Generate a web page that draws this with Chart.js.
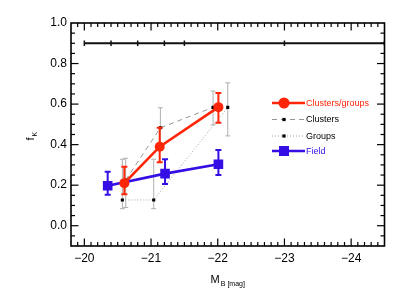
<!DOCTYPE html>
<html>
<head>
<meta charset="utf-8">
<script src="https://cdn.jsdelivr.net/npm/chart.js@4.4.1/dist/chart.umd.min.js"></script>
<style>
  html, body { margin: 0; padding: 0; background: #fff; }
  #wrap { width: 407px; height: 291px; }
</style>
</head>
<body>
<div id="wrap"><canvas id="chart"></canvas></div>
<script>
// tick values
const xTickVals = [-20, -21, -22, -23, -24];
const yTickVals = [0, 0.2, 0.4, 0.6, 0.8, 1.0];

// black reference line with bin markers
const refX = [-20, -20.4, -20.8, -21.2, -21.5, -23, -24.5];
const refY = [0.9, 0.9, 0.9, 0.9, 0.9, 0.9, 0.9];

// Clusters/groups (red)
const cgX = [-20.6, -21.13, -22.01];
const cgY = [0.21, 0.39, 0.585];
const cgLo = [0.155, 0.313, 0.508];
const cgHi = [0.291, 0.483, 0.655];

// Clusters (dashed)
const clX = [-20.62, -21.14, -21.93];
const clY = [0.225, 0.483, 0.584];
const clLo = [0.09, 0.38, 0.497];
const clHi = [0.333, 0.582, 0.664];

// Groups (dotted)
const grX = [-20.57, -21.04, -22.15];
const grY = [0.127, 0.127, 0.584];
const grLo = [0.084, 0.084, 0.443];
const grHi = [0.328, 0.328, 0.705];

// Field (blue)
const fdX = [-20.35, -21.21, -22.01];
const fdY = [0.197, 0.257, 0.303];
const fdLo = [0.153, 0.206, 0.25];
const fdHi = [0.266, 0.328, 0.373];

const RED = 'rgb(255,38,8)';
const BLUE = 'rgb(52,14,228)';
const FONT = '"Liberation Sans", Arial, sans-serif';

const pts = (xs, ys) => xs.map((x, i) => ({ x: x, y: ys[i] }));

const errorBars = {
  id: 'errorBars',
  beforeDatasetDraw(chart, args) {
    const ds = chart.data.datasets[args.index];
    if (!ds.errLo) return;
    const ctx = chart.ctx;
    const xs = chart.scales.x, ys = chart.scales.y;
    ctx.save();
    ctx.strokeStyle = ds.errColor;
    ctx.lineWidth = ds.errWidth;
    ds.data.forEach((p, i) => {
      const px = xs.getPixelForValue(p.x);
      const y1 = ys.getPixelForValue(ds.errLo[i]);
      const y2 = ys.getPixelForValue(ds.errHi[i]);
      const c = ds.errCap;
      ctx.beginPath();
      ctx.moveTo(px, y1); ctx.lineTo(px, y2);
      ctx.moveTo(px - c, y1); ctx.lineTo(px + c, y1);
      ctx.moveTo(px - c, y2); ctx.lineTo(px + c, y2);
      ctx.stroke();
    });
    ctx.restore();
  }
};

const frame = {
  id: 'frame',
  afterDraw(chart) {
    const ctx = chart.ctx;
    const a = chart.chartArea;
    const xs = chart.scales.x, ys = chart.scales.y;
    ctx.save();
    ctx.setLineDash([]);
    ctx.strokeStyle = '#000';
    ctx.lineWidth = 1.6;
    ctx.strokeRect(a.left, a.top, a.right - a.left, a.bottom - a.top);

    // inward ticks: x major every 1, minor every 0.1; y major every 0.2, minor every 0.05
    const tickSegs = [];
    for (let k = 198; k <= 245; k++) {
      const px = xs.getPixelForValue(-k / 10);
      if (px < a.left + 1 || px > a.right - 1) continue;
      const len = (k % 10 === 0) ? 7.5 : 4;
      tickSegs.push([px, a.bottom, px, a.bottom - len]);
      tickSegs.push([px, a.top, px, a.top + len]);
    }
    for (let k = -2; k <= 20; k++) {
      const py = ys.getPixelForValue(k * 0.05);
      if (py < a.top + 1 || py > a.bottom - 1) continue;
      const len = (k % 4 === 0) ? 7.5 : 4;
      tickSegs.push([a.left, py, a.left + len, py]);
      tickSegs.push([a.right, py, a.right - len, py]);
    }
    ctx.lineWidth = 1.2;
    tickSegs.forEach(s => {
      ctx.beginPath();
      ctx.moveTo(s[0], s[1]);
      ctx.lineTo(s[2], s[3]);
      ctx.stroke();
    });

    // axis titles
    ctx.fillStyle = '#000';
    ctx.textBaseline = 'alphabetic';
    ctx.textAlign = 'left';
    ctx.font = '11px ' + FONT;
    const mW = ctx.measureText('M').width;
    ctx.font = '7px ' + FONT;
    const sub = 'B [mag]';
    const sW = ctx.measureText(sub).width;
    const cx = (a.left + a.right) / 2;
    const x0 = cx - (mW + sW + 1) / 2;
    ctx.font = '11px ' + FONT;
    ctx.fillText('M', x0, 283);
    ctx.font = '7px ' + FONT;
    ctx.fillText(sub, x0 + mW + 1, 286);

    ctx.save();
    ctx.translate(34, (a.top + a.bottom) / 2 + 6);
    ctx.rotate(-Math.PI / 2);
    ctx.font = '11px ' + FONT;
    ctx.fillText('f', 0, 0);
    ctx.font = '7px ' + FONT;
    ctx.fillText('K', 4, 3);
    ctx.restore();

    // legend
    const items = [
      { label: 'Clusters/groups', color: RED, line: RED, width: 2.5, dash: [], marker: 'circle', r: 5.5 },
      { label: 'Clusters', color: '#000', line: 'rgb(150,150,150)', width: 1, dash: [5, 4], marker: 'dot', r: 1.6 },
      { label: 'Groups', color: '#000', line: 'rgb(160,160,160)', width: 1, dash: [1, 2], marker: 'dot', r: 1.6 },
      { label: 'Field', color: BLUE, line: BLUE, width: 2.5, dash: [], marker: 'square', r: 5 }
    ];
    const lx1 = 272, lx2 = 305, mx = 284, tx = 306;
    const lys = [103, 119.5, 136, 151];
    items.forEach((it, i) => {
      const y = lys[i];
      ctx.strokeStyle = it.line;
      ctx.lineWidth = it.width;
      ctx.setLineDash(it.dash);
      ctx.beginPath();
      ctx.moveTo(lx1, y); ctx.lineTo(lx2, y);
      ctx.stroke();
      ctx.setLineDash([]);
      ctx.fillStyle = it.color;
      if (it.marker === 'circle') {
        ctx.beginPath(); ctx.arc(mx, y, it.r, 0, Math.PI * 2); ctx.fill();
      } else {
        ctx.fillRect(mx - it.r, y - it.r, it.r * 2, it.r * 2);
      }
      ctx.font = '9px ' + FONT;
      ctx.textBaseline = 'middle';
      ctx.fillText(it.label, tx, y + 0.5);
    });
    ctx.restore();
  }
};

new Chart(document.getElementById('chart').getContext('2d'), {
  type: 'scatter',
  data: {
    datasets: [
      {
        label: 'ref',
        data: pts(refX, refY),
        showLine: true,
        borderColor: '#111',
        backgroundColor: '#111',
        borderWidth: 1.8,
        pointStyle: 'line',
        rotation: 90,
        pointRadius: 2.8,
        pointBorderWidth: 1.5,
        order: 5
      },
      {
        label: 'Groups',
        data: pts(grX, grY),
        showLine: true,
        borderColor: 'rgb(160,160,160)',
        borderDash: [1, 2],
        borderWidth: 1,
        pointStyle: 'rect',
        pointRadius: 2.2,
        pointBackgroundColor: '#000',
        pointBorderColor: '#000',
        pointBorderWidth: 0,
        errLo: grLo, errHi: grHi, errColor: 'rgb(175,175,175)', errWidth: 1, errCap: 2.5,
        order: 4
      },
      {
        label: 'Clusters',
        data: pts(clX, clY),
        showLine: true,
        borderColor: 'rgb(150,150,150)',
        borderDash: [5, 4],
        borderWidth: 1,
        pointStyle: 'rect',
        pointRadius: 2.2,
        pointBackgroundColor: '#000',
        pointBorderColor: '#000',
        pointBorderWidth: 0,
        errLo: clLo, errHi: clHi, errColor: 'rgb(175,175,175)', errWidth: 1, errCap: 2.5,
        order: 3
      },
      {
        label: 'Field',
        data: pts(fdX, fdY),
        showLine: true,
        borderColor: BLUE,
        borderWidth: 2.6,
        pointStyle: 'rect',
        pointRadius: 6.8,
        pointBackgroundColor: BLUE,
        pointBorderColor: BLUE,
        pointBorderWidth: 0,
        errLo: fdLo, errHi: fdHi, errColor: BLUE, errWidth: 2, errCap: 3,
        order: 2
      },
      {
        label: 'Clusters/groups',
        data: pts(cgX, cgY),
        showLine: true,
        borderColor: RED,
        borderWidth: 2.6,
        pointStyle: 'circle',
        pointRadius: 5,
        pointBackgroundColor: RED,
        pointBorderColor: RED,
        pointBorderWidth: 0,
        errLo: cgLo, errHi: cgHi, errColor: RED, errWidth: 2, errCap: 3,
        order: 1
      }
    ]
  },
  options: {
    responsive: true,
    maintainAspectRatio: false,
    animation: false,
    layout: { padding: { left: 0, top: 23, right: 22.5, bottom: 0 } },
    plugins: { legend: { display: false }, tooltip: { enabled: false } },
    scales: {
      x: {
        type: 'linear',
        reverse: true,
        min: -24.5,
        max: -19.8,
        grid: { display: false, drawTicks: false },
        border: { display: false },
        afterBuildTicks: s => { s.ticks = xTickVals.map(v => ({ value: v })); },
        afterFit: s => { s.height = 45; },
        ticks: {
          color: '#000',
          font: { family: FONT, size: 12 },
          padding: 5,
          maxRotation: 0,
          callback: v => '\u2212' + Math.abs(v)
        }
      },
      y: {
        type: 'linear',
        min: -0.1,
        max: 1.0,
        grid: { display: false, drawTicks: false },
        border: { display: false },
        afterBuildTicks: s => { s.ticks = yTickVals.map(v => ({ value: v })); },
        afterFit: s => { s.width = 71; },
        ticks: {
          color: '#000',
          font: { family: FONT, size: 12 },
          padding: 4,
          callback: v => v.toFixed(1)
        }
      }
    }
  },
  plugins: [errorBars, frame]
});
</script>
</body>
</html>
